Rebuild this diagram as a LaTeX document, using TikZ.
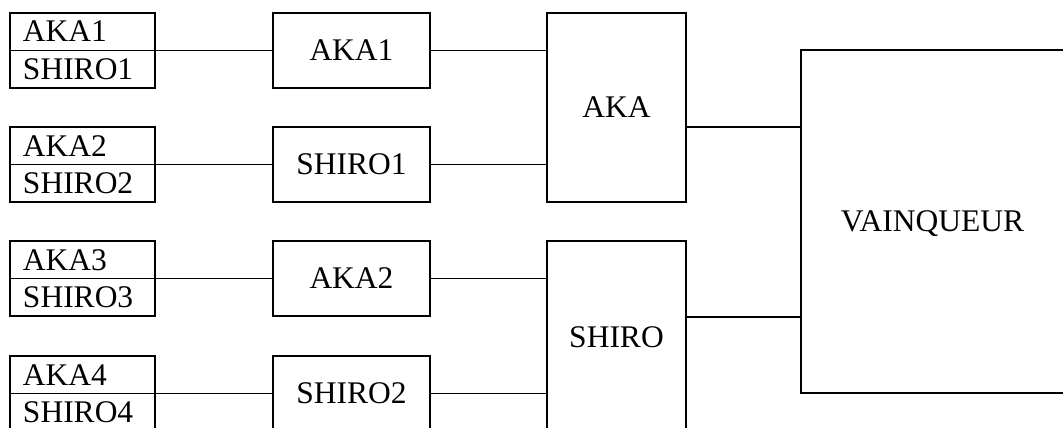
\documentclass[tikz,border=0pt]{standalone}
\usepackage{fontspec}
\setmainfont{Liberation Serif}
\begin{document}
\begin{tikzpicture}[x=1pt,y=-1pt,
  every node/.style={font=\fontsize{31.5}{36}\selectfont},
  half/.style={draw, line width=1.8pt, inner xsep=13pt, inner ysep=0pt, outer sep=0pt,
    text width=119pt, align=left, minimum height=37.5pt, text height=20.5pt, text depth=0pt},
  box/.style={draw, line width=1.8pt, inner sep=0pt, outer sep=0pt, align=center,
    text height=20.5pt, text depth=0pt},
  conn/.style={line width=1.8pt}]
\useasboundingbox (0,0) rectangle (1063,428);
\clip (0,0) rectangle (1063,428);
% left pairs
\foreach \i/\t in {1/13,2/127,3/241,4/356}{
  \node[half] (a\i) at (82.5,\t+18.75) {AKA\i};
  \node[half] (s\i) at (82.5,\t+56.25) {SHIRO\i};
}
% middle boxes
\node[box, minimum width=157pt, minimum height=75pt] (m1) at (351.5,50.5) {AKA1};
\node[box, minimum width=157pt, minimum height=75pt] (m2) at (351.5,164.5) {SHIRO1};
\node[box, minimum width=157pt, minimum height=75pt] (m3) at (351.5,278.5) {AKA2};
\node[box, minimum width=157pt, minimum height=75pt] (m4) at (351.5,393.5) {SHIRO2};
% semifinals
\node[box, minimum width=139pt, minimum height=189pt] (aka) at (616.5,107.5) {AKA};
\node[box, minimum width=139pt, minimum height=192pt] (shiro) at (616.5,337) {SHIRO};
% winner
\node[box, minimum width=263pt, minimum height=343pt] (v) at (932.5,221.5) {VAINQUEUR};
% connectors
\foreach \i in {1,2,3,4}{
  \draw[conn] (a\i.south east) -- (m\i.west);
}
\draw[conn] (m1.east) -- (m1.east -| aka.west);
\draw[conn] (m2.east) -- (m2.east -| aka.west);
\draw[conn] (m3.east) -- (m3.east -| shiro.west);
\draw[conn] (m4.east) -- (m4.east -| shiro.west);
\coordinate (oa) at (aka.east |- 0,127);
\coordinate (os) at (shiro.east |- 0,317);
\draw[conn] (oa) -- (oa -| v.west);
\draw[conn] (os) -- (os -| v.west);
\end{tikzpicture}
\end{document}
